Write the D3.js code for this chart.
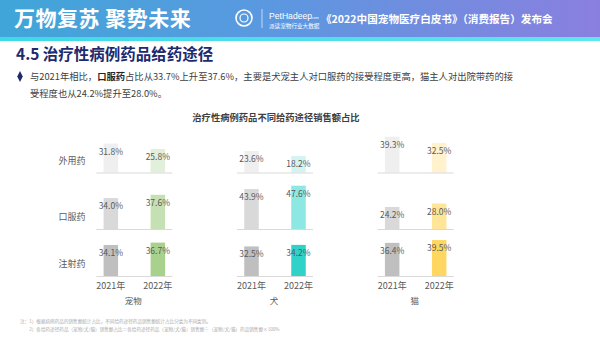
<!DOCTYPE html>
<html>
<head>
<meta charset="utf-8">
<script src="https://cdn.jsdelivr.net/npm/d3@7"></script>
<style>
  html, body { margin: 0; padding: 0; background: #ffffff; }
  svg { display: block; font-family: "Noto Sans CJK SC", "Noto Sans", sans-serif; }
</style>
</head>
<body>
<svg id="chart" width="600" height="337"></svg>
<script>
// Share of treatment-case drug sales by administration route
const groups = ["宠物", "犬", "猫"];
const years = ["2021年", "2022年"];
const routes = ["外用药", "口服药", "注射药"];

const pet2021 = [31.8, 34.0, 34.1];
const pet2022 = [25.8, 37.6, 36.7];
const dog2021 = [23.6, 43.9, 32.5];
const dog2022 = [18.2, 47.6, 34.2];
const cat2021 = [39.3, 24.2, 36.4];
const cat2022 = [32.5, 28.0, 39.5];

const seriesByGroup = {
  "宠物": [pet2021, pet2022],
  "犬": [dog2021, dog2022],
  "猫": [cat2021, cat2022]
};

// colour ramps: one shade per route row
const grayShades = ["#efefef", "#d9d9d9", "#bfbfbf"];
const yearColors = {
  "宠物": [grayShades, ["#e2efda", "#c5e0b3", "#a9d18e"]],
  "犬": [grayShades, ["#d3f4f2", "#8de7e2", "#2fd2c9"]],
  "猫": [grayShades, ["#fff2cc", "#ffe598", "#ffd760"]]
};

const svg = d3.select("#chart");

// ---------- header banner ----------
const defs = svg.append("defs");
const grad = defs.append("linearGradient").attr("id", "hdr").attr("x1", 0).attr("x2", 1).attr("y1", 0).attr("y2", 0);
grad.append("stop").attr("offset", "0%").attr("stop-color", "#3fa6d8");
grad.append("stop").attr("offset", "45%").attr("stop-color", "#5b98e0");
grad.append("stop").attr("offset", "100%").attr("stop-color", "#8a7fdf");
const grad2 = defs.append("linearGradient").attr("id", "strip").attr("x1", 0).attr("x2", 1);
grad2.append("stop").attr("offset", "0%").attr("stop-color", "#3fd8e6");
grad2.append("stop").attr("offset", "100%").attr("stop-color", "#5fe6ee");

svg.append("rect").attr("x", 0).attr("y", 0).attr("width", 600).attr("height", 39).attr("fill", "url(#hdr)");
svg.append("rect").attr("x", 0).attr("y", 37).attr("width", 600).attr("height", 4).attr("fill", "url(#strip)");

svg.append("text").attr("x", 14).attr("y", 26)
  .attr("fill", "#ffffff").attr("font-size", 21).attr("font-weight", 700)
  .attr("letter-spacing", 0.5)
  .text("万物复苏  聚势未来");

// logo mark
svg.append("circle").attr("cx", 244).attr("cy", 18).attr("r", 8)
  .attr("fill", "none").attr("stroke", "#ffffff").attr("stroke-width", 1.6);
svg.append("circle").attr("cx", 244).attr("cy", 18).attr("r", 4)
  .attr("fill", "none").attr("stroke", "#ffffff").attr("stroke-width", 1.2);
svg.append("line").attr("x1", 262).attr("x2", 262).attr("y1", 9).attr("y2", 28)
  .attr("stroke", "#ffffff").attr("stroke-width", 0.8).attr("opacity", 0.8);
svg.append("text").attr("x", 269).attr("y", 19).attr("fill", "#ffffff")
  .attr("font-size", 8.6).attr("font-family", "Liberation Sans, Arial, sans-serif")
  .text("PetHadeep");
svg.append("text").attr("x", 311).attr("y", 19).attr("fill", "#ffffff")
  .attr("font-size", 3.5).attr("font-family", "Liberation Sans, Arial, sans-serif").text(".com");
svg.append("text").attr("x", 269).attr("y", 27.5).attr("fill", "#ffffff")
  .attr("font-size", 5.6).text("派读宠物行业大数据");
svg.append("text").attr("x", 321).attr("y", 22.5).attr("fill", "#ffffff")
  .attr("font-size", 10.6).attr("font-weight", 700)
  .text("《2022中国宠物医疗白皮书》（消费报告）发布会");

// ---------- section heading and note ----------
svg.append("text").attr("x", 16).attr("y", 60)
  .attr("fill", "#1d2a6e").attr("font-size", 15.5).attr("font-weight", 700)
  .text("4.5 治疗性病例药品给药途径");

svg.append("path").attr("d", d3.symbol(d3.symbolDiamond, 26)())
  .attr("transform", "translate(20,76.5) scale(1,1.15)").attr("fill", "#1d2a6e");

const p1 = svg.append("text").attr("x", 30).attr("y", 80).attr("fill", "#404040").attr("font-size", 9.3);
p1.append("tspan").text("与2021年相比，");
p1.append("tspan").attr("font-weight", 700).attr("fill", "#262626").text("口服药");
p1.append("tspan").text("占比从33.7%上升至37.6%，主要是犬宠主人对口服药的接受程度更高，猫主人对出院带药的接");
svg.append("text").attr("x", 30).attr("y", 97).attr("fill", "#404040").attr("font-size", 9.3)
  .text("受程度也从24.2%提升至28.0%。");

// ---------- chart ----------
svg.append("text").attr("x", 276).attr("y", 121).attr("text-anchor", "middle")
  .attr("fill", "#404040").attr("font-size", 9.3).attr("font-weight", 700)
  .text("治疗性病例药品不同给药途径销售额占比");

const xGroup = d3.scaleBand().domain(groups).range([64, 486]);
const xYear = d3.scalePoint().domain(years).range([-23.5, 23.5]);
const barW = 14.5;
const yH = d3.scaleLinear().domain([0, 100]).range([0, 91]);
// baseline of each route row
const rowBase = d3.scaleOrdinal().domain(routes).range([172.5, 229, 276]);

const gCenter = g => xGroup(g) + xGroup.bandwidth() / 2;

// row titles
svg.append("g").selectAll("text").data(routes).join("text")
  .attr("x", 72).attr("y", r => rowBase(r) - 9)
  .attr("text-anchor", "middle").attr("fill", "#595959").attr("font-size", 9)
  .text(r => r);

const cells = [];
groups.forEach(g => {
  years.forEach((yr, yi) => {
    routes.forEach((r, ri) => {
      cells.push({ g, yr, yi, r, ri, v: seriesByGroup[g][yi][ri], color: yearColors[g][yi][ri] });
    });
  });
});

// bars
svg.append("g").selectAll("rect").data(cells).join("rect")
  .attr("x", d => gCenter(d.g) + xYear(d.yr) - barW / 2)
  .attr("y", d => rowBase(d.r) - yH(d.v))
  .attr("width", barW)
  .attr("height", d => yH(d.v))
  .attr("fill", d => d.color);

// baseline of each small panel
const axes = [];
groups.forEach(g => routes.forEach(r => axes.push({ g, r })));
svg.append("g").selectAll("line").data(axes).join("line")
  .attr("x1", d => gCenter(d.g) - 38).attr("x2", d => gCenter(d.g) + 38)
  .attr("y1", d => rowBase(d.r) + 0.5).attr("y2", d => rowBase(d.r) + 0.5)
  .attr("stroke", "#d9d9d9").attr("stroke-width", 1);

// value labels
svg.append("g").selectAll("text").data(cells).join("text")
  .attr("x", d => gCenter(d.g) + xYear(d.yr))
  .attr("y", d => rowBase(d.r) - yH(d.v) + 11)
  .attr("text-anchor", "middle").attr("fill", "#595959").attr("font-size", 8.5)
  .text(d => d3.format(".1f")(d.v) + "%");

// year tick labels
const ticks = [];
groups.forEach(g => years.forEach(yr => ticks.push({ g, yr })));
svg.append("g").selectAll("text").data(ticks).join("text")
  .attr("x", d => gCenter(d.g) + xYear(d.yr)).attr("y", 289)
  .attr("text-anchor", "middle").attr("fill", "#595959").attr("font-size", 9)
  .text(d => d.yr);

// group labels
svg.append("g").selectAll("text").data(groups).join("text")
  .attr("x", g => gCenter(g) - 1).attr("y", 304)
  .attr("text-anchor", "middle").attr("fill", "#595959").attr("font-size", 8.5)
  .text(g => g);

// footnotes
const notes = [
  "注：1）根据病例药品的销售额统计占比，不同给药途径药品销售额统计占比分类为不同类别。",
  "　　2）各给药途径药品（宠物/犬/猫）销售额占比＝各给药途径药品（宠物/犬/猫）销售额÷（宠物/犬/猫）药品销售额×100%"
];
svg.append("g").attr("opacity", 0.75).selectAll("text").data(notes).join("text")
  .attr("x", 20).attr("y", (d, i) => 323 + i * 8)
  .attr("fill", "#8c8c8c").attr("font-size", 4.6)
  .text(d => d);
</script>
</body>
</html>
